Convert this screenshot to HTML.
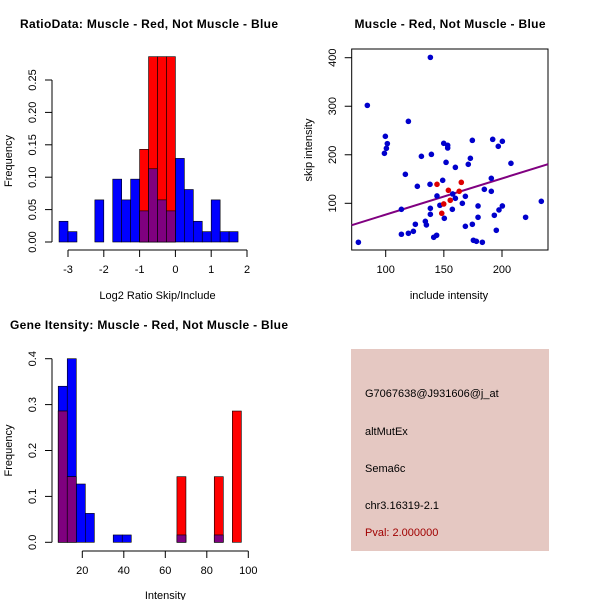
<!DOCTYPE html>
<html><head><meta charset="utf-8"><style>
html,body{margin:0;padding:0;background:#fff}
svg{display:block;font-family:"Liberation Sans",sans-serif}
</style></head><body>
<svg id="c" width="600" height="600" viewBox="0 0 600 600">
<rect x="0" y="0" width="600" height="600" fill="#fff"/>
<text x="149" y="28" text-anchor="middle" font-size="12" font-weight="bold" textLength="258">RatioData: Muscle - Red, Not Muscle - Blue</text>
<text x="450" y="28" text-anchor="middle" font-size="12" font-weight="bold" textLength="191">Muscle - Red, Not Muscle - Blue</text>
<text x="149" y="329" text-anchor="middle" font-size="12" font-weight="bold" textLength="278">Gene Itensity: Muscle - Red, Not Muscle - Blue</text>
<g id="p1"></g>
<g id="p2"></g>
<g id="p3"></g>
<g>
<rect x="351" y="349" width="198" height="202" fill="#e5c8c2"/>
<text x="365" y="397" font-size="11" fill="#000">G7067638@J931606@j_at</text>
<text x="365" y="435" font-size="11" fill="#000">altMutEx</text>
<text x="365" y="472" font-size="11" fill="#000">Sema6c</text>
<text x="365" y="509" font-size="11" fill="#000">chr3.16319-2.1</text>
<text x="365" y="536" font-size="11" fill="#a00000">Pval: 2.000000</text>
</g>
</svg>
<script>
// ---- Panel 1 data: log2 ratio histogram ----
const ratioBinWidth = 0.25;
const ratioBlueBins = [-3.25,-3.0,-2.25,-1.75,-1.5,-1.25,-1.0,-0.75,-0.5,-0.25,0,0.25,0.5,0.75,1.0,1.25,1.5];
const ratioBlueFreq = [0.032,0.016,0.065,0.097,0.065,0.097,0.048,0.113,0.065,0.048,0.129,0.081,0.032,0.016,0.065,0.016,0.016];
const ratioRedBins = [-1.0,-0.75,-0.5,-0.25];
const ratioRedFreq = [0.143,0.286,0.286,0.286];
const ratioXTicks = [-3,-2,-1,0,1,2];
const ratioYTicks = [0,0.05,0.10,0.15,0.20,0.25];
const ratioYLabels = ["0.00","0.05","0.10","0.15","0.20","0.25"];
// ---- Panel 2 data: scatter ----
const blueInclude = [76.5,84.2,138.4,119.5,99.7,101.4,100.6,98.9,130.7,139.3,116.9,127.2,138.1,149,149.9,153.3,153.3,151.9,159.9,174.5,172.8,171,192,200.3,196.8,207.7,190.8,184.8,190.8,144.1,157.6,159.9,168.5,165.9,146.6,138.4,157.3,113.5,138.4,150.4,179.4,179.4,200.3,197.4,193.4,220.3,233.8,134.1,135,125.5,168.5,174.5,195.1,123.8,119.5,113.5,143.8,141.3,175.4,178,183.1];
const blueSkip = [19.7,301.8,400.7,268.9,238,222.9,213.3,203,196.8,200.9,159.7,135,139.1,147.4,223.6,219.4,214,184.4,174.1,229.7,192.7,180.3,231.8,227.7,217.4,182.4,151.5,128.8,124.7,115.1,119.2,110.3,114.4,100,95.9,89.7,87.6,87.6,77.3,69.1,94.5,71.2,94.5,86.3,75.3,71.2,104.1,62.9,55.4,56.8,52.6,56.8,44.4,42.3,38.2,36.2,34.1,30,23.8,21.7,19.7];
const redInclude = [144.1,153.9,165,163.2,155.5,149.9,148.2];
const redSkip = [139.1,126.8,143.2,124.7,106.2,98.6,79.4];
const fitLine = [2.2,0.745]; // intercept, slope
const scatterXTicks = [100,150,200];
const scatterYTicks = [100,200,300,400];
// ---- Panel 3 data: intensity histogram ----
const intBinWidth = 4.35;
const intBlueBins = [8.4,12.75,17.1,21.45,34.9,39.25,65.6,83.6];
const intBlueFreq = [0.34,0.40,0.127,0.063,0.016,0.016,0.016,0.016];
const intRedBins = [8.4,12.75,65.6,83.6,92.3];
const intRedFreq = [0.286,0.143,0.143,0.143,0.286];
const intXTicks = [20,40,60,80,100];
const intYTicks = [0,0.1,0.2,0.3,0.4];
const intYLabels = ["0.0","0.1","0.2","0.3","0.4"];

const NS="http://www.w3.org/2000/svg";
function mk(parent,tag,attrs,text){const e=document.createElementNS(NS,tag);for(const k in attrs)e.setAttribute(k,attrs[k]);if(text!==undefined)e.textContent=text;parent.appendChild(e);return e;}

function hist(g,sx,sy,bw,bBins,bFreq,rBins,rFreq,nameP){
  bBins.forEach((b,i)=>{const x1=sx(b),x2=sx(b+bw),y=sy(bFreq[i]);
    const r=mk(g,'rect',{x:x1,y:y,width:x2-x1,height:sy(0)-y,fill:'#0000ff',stroke:'#000','stroke-width':0.6});
    
    });
  rBins.forEach((b,i)=>{const x1=sx(b),x2=sx(b+bw),y=sy(rFreq[i]);
    const r=mk(g,'rect',{x:x1,y:y,width:x2-x1,height:sy(0)-y,fill:'#ff0000',stroke:'#000','stroke-width':0.6});
    
    
    const j=bBins.findIndex(v=>Math.abs(v-b)<1e-6);
    if(j>=0){const h=Math.min(bFreq[j],rFreq[i]);const yy=sy(h);
      const p=mk(g,'rect',{x:x1,y:yy,width:x2-x1,height:sy(0)-yy,fill:'#7f007f',stroke:'#000','stroke-width':0.6});
      
      }
  });
}
function axes(g,sx,sy,xt,xl,yt,yl,xAxisY,yAxisX,xlab,xlabY,ylab,ylabX,nameP){
  const x0=sx(xt[0]),x1=sx(xt[xt.length-1]);
  const xa=mk(g,'path',{d:`M${x0},${xAxisY}H${x1}`,stroke:'#000',fill:'none'});
  
  
  xt.forEach((t,i)=>{const x=sx(t);mk(g,'path',{d:`M${x},${xAxisY}v7`,stroke:'#000'});
    const tx=mk(g,'text',{x:x,y:xAxisY+23,'text-anchor':'middle','font-size':11},xl[i]);
    
    });
  const y0=sy(yt[0]),y1=sy(yt[yt.length-1]);
  const ya=mk(g,'path',{d:`M${yAxisX},${y0}V${y1}`,stroke:'#000',fill:'none'});
  
  
  yt.forEach((t,i)=>{const y=sy(t);mk(g,'path',{d:`M${yAxisX},${y}h-7`,stroke:'#000'});
    const tx=mk(g,'text',{x:0,y:0,'text-anchor':'middle','font-size':11,transform:`translate(${yAxisX-16},${y}) rotate(-90)`},yl[i]);
    
    });
  const xt2=mk(g,'text',{x:(x0+x1)/2,y:xlabY,'text-anchor':'middle','font-size':11},xlab);
  
  
  const yt2=mk(g,'text',{x:0,y:0,'text-anchor':'middle','font-size':11,transform:`translate(${ylabX},${(y0+y1)/2}) rotate(-90)`},ylab);
  
  
}
// Panel 1
(function(){
  const g=document.getElementById('p1');
  const sx=v=>68+(v+3)*35.8, sy=v=>242-v*648;
  hist(g,sx,sy,ratioBinWidth,ratioBlueBins,ratioBlueFreq,ratioRedBins,ratioRedFreq,'ratio');
  axes(g,sx,sy,ratioXTicks,ratioXTicks.map(String),ratioYTicks,ratioYLabels,250,52,'Log2 Ratio Skip/Include',299,'Frequency',12,'ratio');
})();
// Panel 2
(function(){
  const g=document.getElementById('p2');
  const sx=v=>385.7+(v-100)*1.163, sy=v=>203.3-(v-100)*0.4853;
  const b=mk(g,'rect',{x:351.7,y:49,width:196.3,height:201,fill:'none',stroke:'#000'});
  
  
  const xa=(351.7-385.7)/1.163+100, xb=(548-385.7)/1.163+100;
  const ln=mk(g,'line',{x1:sx(xa),y1:sy(fitLine[0]+fitLine[1]*xa),x2:sx(xb),y2:sy(fitLine[0]+fitLine[1]*xb),stroke:'#800080','stroke-width':2});
  
  
  blueInclude.forEach((v,i)=>{const c=mk(g,'circle',{cx:sx(v),cy:sy(blueSkip[i]),r:2.8,fill:'#0000cc'});
    
    });
  redInclude.forEach((v,i)=>{const c=mk(g,'circle',{cx:sx(v),cy:sy(redSkip[i]),r:2.8,fill:'#dd0000'});
    
    });
  scatterXTicks.forEach(t=>{const x=sx(t);mk(g,'path',{d:`M${x},250v7`,stroke:'#000'});
    const tx=mk(g,'text',{x:x,y:273,'text-anchor':'middle','font-size':11},String(t));
    
    });
  scatterYTicks.forEach(t=>{const y=sy(t);mk(g,'path',{d:`M351.7,${y}h-7`,stroke:'#000'});
    const tx=mk(g,'text',{x:0,y:0,'text-anchor':'middle','font-size':11,transform:`translate(336,${y}) rotate(-90)`},String(t));
    
    });
  const xl=mk(g,'text',{x:449,y:299,'text-anchor':'middle','font-size':11},'include intensity');
  
  
  const yl=mk(g,'text',{x:0,y:0,'text-anchor':'middle','font-size':11,transform:'translate(312,150) rotate(-90)'},'skip intensity');
  
  
})();
// Panel 3
(function(){
  const g=document.getElementById('p3');
  const sx=v=>82.3+(v-20)*2.075, sy=v=>542.3-v*459;
  hist(g,sx,sy,intBinWidth,intBlueBins,intBlueFreq,intRedBins,intRedFreq,'intensity');
  axes(g,sx,sy,intXTicks,intXTicks.map(String),intYTicks,intYLabels,551,52,'Intensity',599,'Frequency',12,'intensity');
})();
</script>
</body></html>
